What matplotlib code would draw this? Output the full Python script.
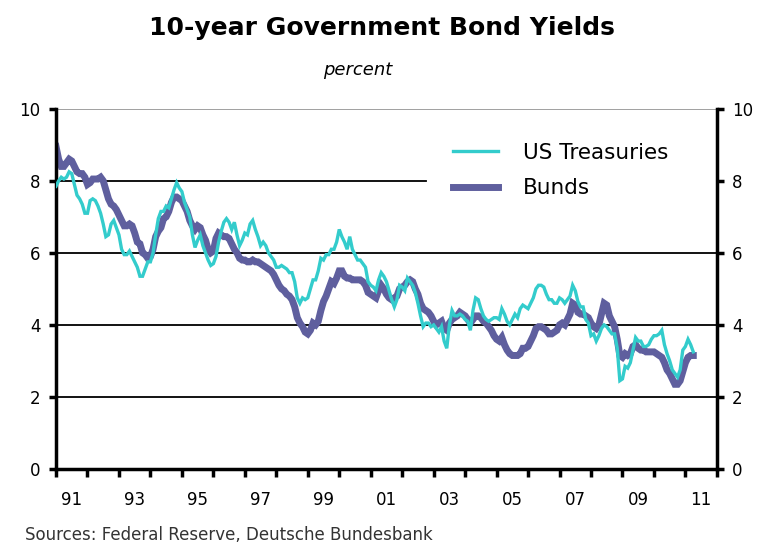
import numpy as np
import matplotlib
matplotlib.use("Agg")
import matplotlib.pyplot as plt
from matplotlib.ticker import FixedLocator, NullFormatter

# monthly 10-year yields, Jan 1991 .. Apr 2011 (percent)
us_treasuries = [
    7.85, 8.0, 8.1, 8.05, 8.1, 8.25, 8.2, 7.9, 7.6, 7.5, 7.35, 7.1,      # 1991
    7.1, 7.45, 7.5, 7.45, 7.3, 7.1, 6.8, 6.45, 6.5, 6.8, 6.9, 6.7,       # 1992
    6.5, 6.1, 5.95, 5.95, 6.05, 5.9, 5.75, 5.6, 5.35, 5.35, 5.55, 5.75,  # 1993
    5.75, 6.0, 6.5, 6.95, 7.15, 7.15, 7.3, 7.25, 7.5, 7.75, 7.95, 7.8,   # 1994
    7.7, 7.4, 7.2, 7.0, 6.5, 6.15, 6.35, 6.5, 6.2, 6.0, 5.8, 5.65,       # 1995
    5.7, 5.9, 6.3, 6.6, 6.85, 6.95, 6.85, 6.65, 6.85, 6.5, 6.2, 6.35,    # 1996
    6.55, 6.5, 6.8, 6.9, 6.65, 6.45, 6.2, 6.3, 6.2, 6.0, 5.9, 5.8,       # 1997
    5.6, 5.6, 5.65, 5.6, 5.55, 5.45, 5.45, 5.2, 4.75, 4.6, 4.75, 4.7,    # 1998
    4.75, 5.0, 5.25, 5.25, 5.5, 5.85, 5.8, 5.95, 5.95, 6.1, 6.1, 6.3,    # 1999
    6.65, 6.45, 6.3, 6.1, 6.45, 6.1, 5.95, 5.8, 5.8, 5.7, 5.6, 5.2,      # 2000
    5.1, 5.05, 4.95, 5.25, 5.45, 5.35, 5.2, 4.95, 4.7, 4.5, 4.7, 5.1,    # 2001
    5.05, 4.95, 5.3, 5.2, 5.1, 4.9, 4.6, 4.25, 3.95, 4.05, 4.05, 3.95,   # 2002
    4.0, 3.9, 3.8, 3.95, 3.55, 3.35, 4.0, 4.4, 4.25, 4.25, 4.3, 4.25,    # 2003
    4.15, 4.1, 3.85, 4.4, 4.75, 4.7, 4.45, 4.25, 4.15, 4.1, 4.15, 4.2,   # 2004
    4.2, 4.15, 4.45, 4.3, 4.1, 4.0, 4.15, 4.3, 4.2, 4.45, 4.55, 4.5,     # 2005
    4.45, 4.6, 4.75, 5.0, 5.1, 5.1, 5.05, 4.85, 4.7, 4.7, 4.6, 4.6,      # 2006
    4.75, 4.7, 4.6, 4.7, 4.8, 5.1, 4.95, 4.65, 4.5, 4.5, 4.15, 4.05,     # 2007
    3.7, 3.75, 3.55, 3.7, 3.9, 4.0, 3.95, 3.85, 3.75, 3.75, 3.35, 2.45,  # 2008
    2.5, 2.85, 2.8, 2.95, 3.3, 3.65, 3.55, 3.55, 3.4, 3.4, 3.45, 3.6,    # 2009
    3.7, 3.7, 3.75, 3.85, 3.45, 3.2, 3.0, 2.75, 2.65, 2.55, 2.75, 3.3,   # 2010
    3.4, 3.6, 3.45, 3.25,                                                # 2011
]
bunds = [
    8.95, 8.6, 8.4, 8.4, 8.5, 8.6, 8.55, 8.4, 8.25, 8.2, 8.2, 8.1,       # 1991
    7.9, 7.95, 8.05, 8.05, 8.05, 8.1, 8.0, 7.75, 7.5, 7.35, 7.3, 7.2,    # 1992
    7.05, 6.9, 6.75, 6.75, 6.8, 6.75, 6.55, 6.3, 6.25, 6.0, 5.95, 5.85,  # 1993
    5.9, 6.1, 6.45, 6.6, 6.7, 6.95, 7.0, 7.15, 7.4, 7.55, 7.55, 7.5,     # 1994
    7.45, 7.3, 7.15, 6.9, 6.75, 6.65, 6.75, 6.7, 6.5, 6.35, 6.1, 6.0,    # 1995
    6.05, 6.4, 6.55, 6.5, 6.45, 6.45, 6.4, 6.25, 6.1, 6.0, 5.85, 5.8,    # 1996
    5.8, 5.75, 5.75, 5.8, 5.75, 5.75, 5.7, 5.65, 5.6, 5.55, 5.5, 5.4,    # 1997
    5.25, 5.1, 5.0, 4.95, 4.85, 4.8, 4.7, 4.5, 4.2, 4.05, 3.95, 3.8,     # 1998
    3.75, 3.85, 4.05, 4.0, 4.1, 4.4, 4.65, 4.8, 5.0, 5.2, 5.15, 5.3,     # 1999
    5.5, 5.5, 5.35, 5.3, 5.3, 5.25, 5.25, 5.25, 5.25, 5.2, 5.1, 4.9,     # 2000
    4.85, 4.8, 4.75, 4.95, 5.1, 5.0, 4.85, 4.75, 4.7, 4.75, 4.8, 5.0,    # 2001
    5.05, 5.1, 5.2, 5.25, 5.2, 5.0, 4.85, 4.6, 4.45, 4.4, 4.35, 4.25,    # 2002
    4.1, 4.0, 4.05, 4.1, 3.9, 3.85, 4.05, 4.15, 4.2, 4.25, 4.35, 4.3,    # 2003
    4.25, 4.15, 4.05, 4.15, 4.25, 4.25, 4.2, 4.1, 4.05, 3.95, 3.85, 3.7, # 2004
    3.6, 3.55, 3.65, 3.45, 3.3, 3.2, 3.15, 3.15, 3.15, 3.2, 3.35, 3.35,  # 2005
    3.4, 3.55, 3.7, 3.9, 3.95, 3.95, 3.9, 3.85, 3.75, 3.75, 3.8, 3.85,   # 2006
    4.0, 4.05, 4.0, 4.15, 4.3, 4.6, 4.55, 4.35, 4.3, 4.3, 4.25, 4.2,     # 2007
    4.05, 3.95, 3.9, 4.0, 4.3, 4.6, 4.55, 4.25, 4.1, 3.95, 3.6, 3.15,    # 2008
    3.1, 3.2, 3.15, 3.2, 3.4, 3.45, 3.35, 3.3, 3.3, 3.25, 3.25, 3.25,    # 2009
    3.25, 3.2, 3.15, 3.1, 2.95, 2.75, 2.65, 2.5, 2.35, 2.35, 2.45, 2.7,  # 2010
    2.95, 3.1, 3.15, 3.15,                                               # 2011
]
year_labels = ["91", "93", "95", "97", "99", "01", "03", "05", "07", "09", "11"]
first_year = 1991

US_COLOR = "#33CCCC"
BUND_COLOR = "#5F5F9E"


def main() -> None:
    t = first_year + np.arange(len(us_treasuries)) / 12.0

    fig = plt.figure(figsize=(7.57, 5.44), dpi=100)
    ax = fig.add_axes([0.074, 0.138, 0.873, 0.662])

    # horizontal rules, the one at 8 stops short of the legend
    for y in [2, 4, 6]:
        ax.axhline(y, color="black", lw=1.3, zorder=1)
    ax.axhline(8, xmax=0.56, color="black", lw=1.3, zorder=1)
    ax.axhline(10, color="#999999", lw=1.3, zorder=1)

    ax.plot(t, bunds, color=BUND_COLOR, lw=5, label="Bunds", zorder=2,
            solid_joinstyle="miter")
    ax.plot(t, us_treasuries, color=US_COLOR, lw=2.4, label="US Treasuries",
            zorder=3, solid_joinstyle="miter")

    ax.set_xlim(first_year, first_year + 21)
    ax.set_ylim(0, 10)

    for side in ["left", "right", "bottom"]:
        ax.spines[side].set_linewidth(2.5)
    ax.spines["top"].set_visible(False)

    ax.set_yticks([0, 2, 4, 6, 8, 10])
    ax.tick_params(axis="y", which="major", left=True, right=True,
                   labelleft=True, labelright=True, direction="out",
                   length=5, width=2.5, pad=6, labelsize=12, colors="black")

    ax.xaxis.set_major_locator(FixedLocator(np.arange(first_year, first_year + 22)))
    ax.xaxis.set_major_formatter(NullFormatter())
    ax.xaxis.set_minor_locator(FixedLocator([first_year + 0.5 + 2 * i for i in range(len(year_labels))]))
    ax.set_xticklabels(year_labels, minor=True)
    ax.tick_params(axis="x", which="major", direction="out", length=6, width=2.5)
    ax.tick_params(axis="x", which="minor", length=0, pad=16, labelsize=12)

    handles, labels = ax.get_legend_handles_labels()
    ax.legend(handles[::-1], labels[::-1], loc="upper left",
              bbox_to_anchor=(0.588, 0.93), frameon=False, fontsize=15.5,
              handlelength=2.1, handletextpad=1.15, labelspacing=0.72,
              borderaxespad=0)

    fig.text(0.505, 0.948, "10-year Government Bond Yields", ha="center",
             va="center", fontsize=18, fontweight="bold")
    fig.text(0.473, 0.871, "percent", ha="center", va="center",
             fontsize=13, style="italic")
    fig.text(0.033, 0.016, "Sources: Federal Reserve, Deutsche Bundesbank",
             ha="left", va="center", fontsize=12, color="#333333")

    fig.savefig("out.png", dpi=100)
    plt.close(fig)


if __name__ == "__main__":
    main()
